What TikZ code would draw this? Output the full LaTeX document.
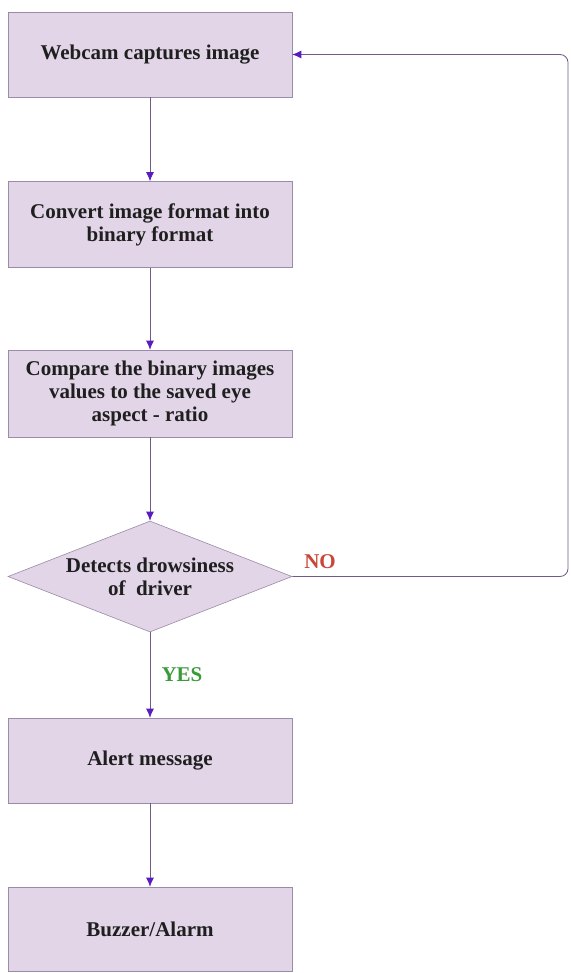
\documentclass[tikz,border=0pt]{standalone}
\usepackage{fontspec}
\setmainfont{Liberation Serif}
\usepackage{xcolor}
\usetikzlibrary{arrows, arrows.meta, shapes.geometric}

\definecolor{boxfill}{HTML}{E1D5E7}
\definecolor{boxline}{HTML}{9A8BA6}
\definecolor{flowline}{HTML}{6E5C86}
\definecolor{tippurple}{HTML}{5A1CC0}
\definecolor{nored}{HTML}{C8473A}
\definecolor{yesgreen}{HTML}{3A9B3A}

\begin{document}
\begin{tikzpicture}[x=1pt, y=-1pt,
	stepbox/.style={draw=boxline, fill=boxfill, line width=0.6pt, minimum width=284pt, inner sep=0pt, align=center, text=black!88, font=\bfseries\fontsize{21}{23}\selectfont},
	decision/.style={diamond, aspect=2.56, draw=boxline, fill=boxfill, line width=0.6pt, minimum width=284pt, minimum height=111pt, inner sep=0pt, align=center, text=black!88, font=\bfseries\fontsize{21}{23}\selectfont},
	flow/.style={draw=flowline, line width=0.8pt, -{Latex[color=tippurple, length=9pt, width=8pt]}},
	answer/.style={font=\bfseries\fontsize{21}{24}\selectfont}]
	\useasboundingbox (0,0) rectangle (570,973);
	% boxes
	\node[stepbox, minimum height=85pt] (web) at (150,54.5) {Webcam captures image};
	\node[stepbox, minimum height=86pt] (conv) at (150,224.5) {Convert image format into\\binary format};
	\node[stepbox, minimum height=87pt] (comp) at (150,393.5) {Compare the binary images\\values to the saved eye\\aspect - ratio};
	\node[decision] (det) at (150,576.5) {Detects drowsiness\\of\ \ driver};
	\node[stepbox, minimum height=85pt] (alert) at (150,760.5) {Alert message};
	\node[stepbox, minimum height=84pt] (buzz) at (150,929) {Buzzer/Alarm};
	% arrows
	\draw[flow] (web) -- (conv);
	\draw[flow] (conv) -- (comp);
	\draw[flow] (comp) -- (det);
	\draw[flow] (det) -- (alert);
	\draw[flow] (alert) -- (buzz);
	% loop back
	\coordinate (loopbot) at (568,576.5);
	\coordinate (looptop) at (568,54.5);
	\draw[flow, rounded corners=8pt] (det.east) -- (loopbot) -- (looptop) -- (web.east);
	\node[answer, text=nored] (no) at (320,562) {NO};
	\node[answer, text=yesgreen] (yes) at (182,675) {YES};
\end{tikzpicture}
\end{document}
